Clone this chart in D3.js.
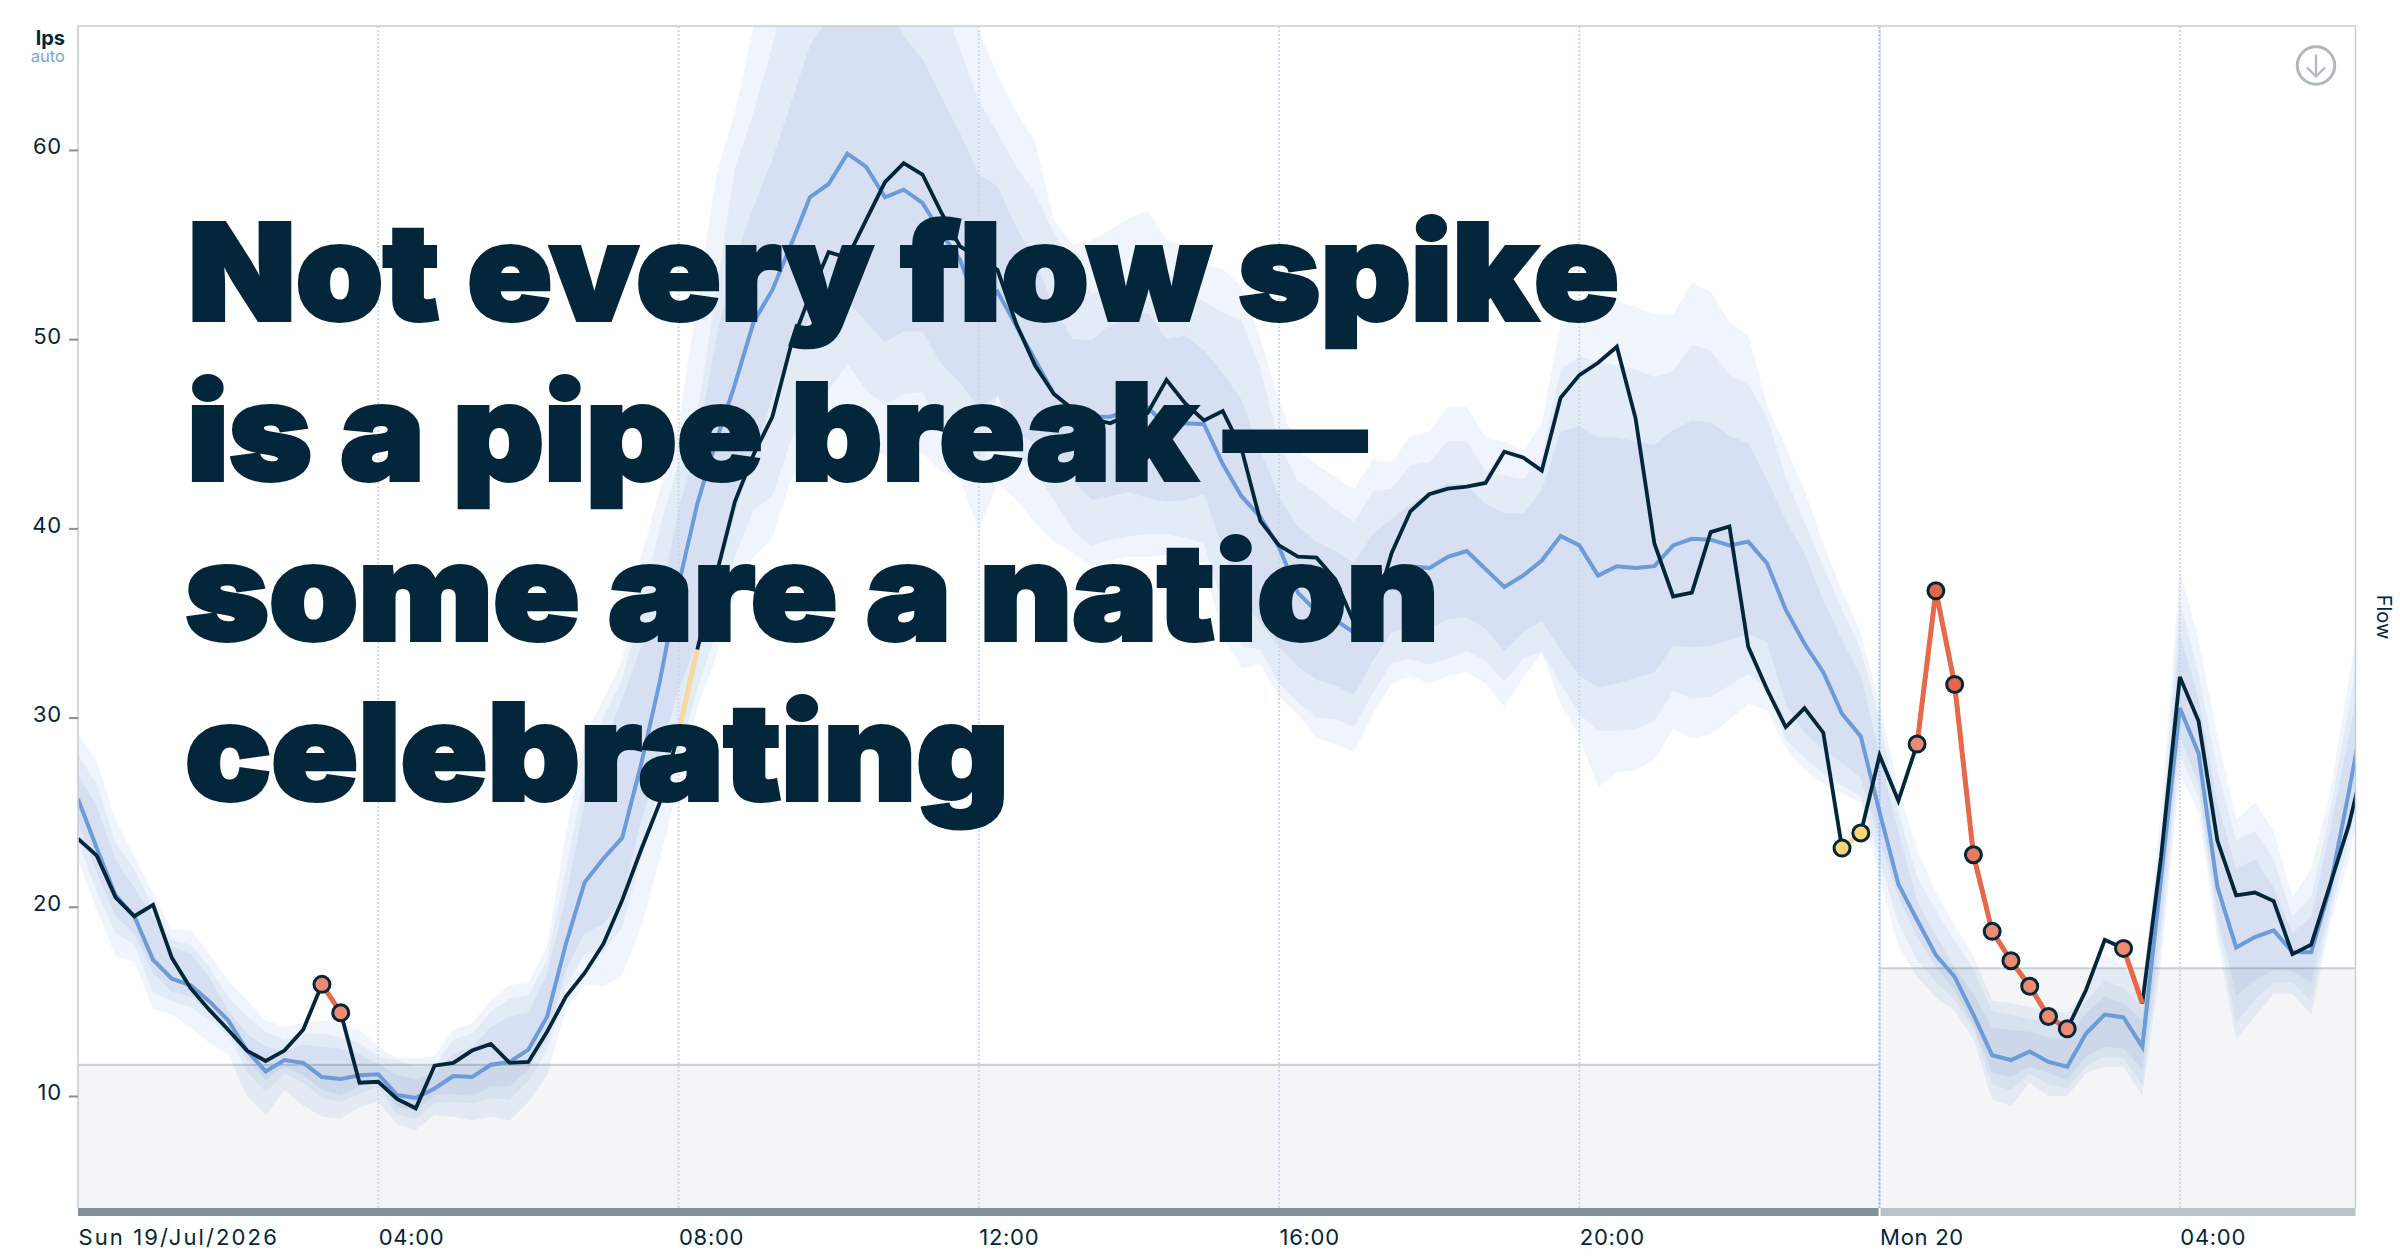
<!DOCTYPE html>
<html>
<head>
<meta charset="utf-8">
<script src="https://cdn.jsdelivr.net/npm/d3@7"></script>
<style>
  html, body { margin: 0; padding: 0; background: #fff; }
  svg { display: block; font-family: Inter, "Noto Sans", sans-serif; }
</style>
</head>
<body>
<div id="chart"></div>
<script>
// flow readings, one value every 15 minutes from Sun 19 Jul 00:00
var actual = [
  23.6,22.7,20.5,19.5,20.1,17.3,15.7,14.55,13.5,12.4,
  11.85,12.4,13.5,15.9,14.4,10.7,10.75,9.85,9.35,11.6,
  11.75,12.4,12.75,11.75,11.8,13.4,15.25,16.5,18.05,20.35,
  23,25.5,29.2,33.6,37.5,41.4,43.9,45.9,49.7,52.3,
  54.6,54.3,56.3,58.3,59.3,58.7,56.7,54.9,54.3,53.65,
  50.8,48.6,47.1,46.3,45.8,45.55,46,46.1,47.85,46.6,
  45.7,46.2,44.2,40.4,39.1,38.5,38.45,37.3,35,35.3,
  38.7,40.9,41.8,42.1,42.2,42.4,44.05,43.75,43.05,46.9,
  48.1,48.75,49.6,45.8,39.2,36.4,36.6,39.8,40.1,33.75,
  31.5,29.5,30.5,29.2,23.1,23.9,28,25.6,28.6,36.7,
  31.75,22.75,18.7,17.15,15.8,14.2,13.55,15.6,18.25,17.8,
  14.9,22.65,32.15,29.8,23.5,20.6,20.75,20.3,17.5,18,
  21.15,24.3,28.4
];
var expected = [
  25.7,23.1,20.6,19.5,17.2,16.2,15.85,15,14,12.4,
  11.3,11.9,11.75,11,10.9,11.1,11.15,10.05,9.9,10.4,
  11.05,11,11.65,11.8,12.45,14.2,18.05,21.3,22.55,23.65,
  27.5,31.9,37,41.3,44.6,47.6,50.9,52.6,55,57.5,
  58.2,59.8,59.1,57.5,57.9,57.2,55.6,54.2,51.5,52.5,
  50.7,48.9,47.1,46.3,45.9,45.9,46.2,46.4,45.4,45.55,
  45.5,43.4,41.7,40.6,39,36.6,35.6,35.15,34.5,35.85,
  37.5,38,37.9,38.5,38.8,37.85,36.9,37.5,38.3,39.6,
  39.1,37.5,38,37.9,38,39.1,39.45,39.4,39.1,39.3,
  38.15,35.7,33.9,32.4,30.2,29,25,21.2,19.3,17.45,
  16.3,14.3,12.15,11.9,12.35,11.8,11.55,13.3,14.3,14.15,
  12.6,21.5,30.5,28.1,21.05,17.85,18.4,18.75,17.6,17.6,
  21,26.05,31.3
];
var upperOuter = [
  29.1,27.7,24.6,22.65,20.7,18.8,18.8,17.5,16.1,15.05,
  14,13.65,13.85,14,13.85,13.5,12.6,12,12,12.1,
  13.5,13.85,15.05,15.85,16,17.9,23.9,29,31,33,
  38.5,42,45.5,52,58.6,62,66.5,71,74,76,
  77,78,78,77,76,74,70,69,66.3,64,
  62,60.4,56.3,55,55.2,55.8,56.4,56.8,55.2,55,
  54,53.7,52.8,50,46.8,44.1,43.4,42.7,42.1,43.65,
  43.5,44.9,45.1,46.4,46.4,44.8,44.6,44.1,45.5,50.8,
  51.5,52,52,51.7,51.3,51.3,53,52.5,50.9,50.2,
  46.5,44.3,42,39.2,36.7,34.5,30.7,26.3,23,20.8,
  19,17.4,15.05,14.9,14.7,14.5,14.4,15.6,17.5,16.8,
  15.8,25,37.8,34.1,29,24.6,25.5,24,20.5,22,
  26,32,38
];
var upperMid = [
  28,26.5,23.4,22,20,18.25,18,16.8,15.25,14.2,
  13.4,13,13.3,13.3,13.1,12.8,12.1,11.9,11.55,11.6,
  13,13.3,14.45,15.15,15.3,17.2,22,27,30,32,
  36,40,43.5,46,52.5,59,62,65.5,70,72,
  74,75,75,74,72,70,68,65.3,62.6,60.9,
  59.1,57.7,55.6,54,52.4,52.8,53.1,53.3,53.6,52.6,
  52,51.4,51,48.5,44.5,42.5,41.85,41,40.35,41.95,
  42.1,43.35,43.5,44.6,44.6,43,42.8,42.6,43.8,48.4,
  49.1,48.8,48.6,48.4,48,48.3,49.7,49.4,48.1,47.6,
  45.9,42.7,40.3,38,35.7,33.6,29.9,25,21.6,19.8,
  18.2,16.7,14.5,14.3,14.1,13.9,13.7,15,16.1,15.7,
  14.7,23.5,36.2,32.3,27.2,23.5,24,22.5,19.5,20.5,
  25,30.5,36
];
var upperInner = [
  27,25.3,22.5,21,19.5,17.9,17.5,16.3,14.5,13.3,
  12.6,12.4,12.7,12.6,12.5,12.2,11.7,11.1,10.9,11.2,
  12.25,12.6,13.65,14.2,14.4,16.5,20.5,25.5,28.5,31,
  33.7,36,41,44.5,50,54.3,57,59.5,62.5,65.5,
  67,69,69,68,66,64.8,62.8,60.9,58.7,58.1,
  55.9,54.2,51.7,50,49.95,50.75,51.1,51.4,50,50.2,
  49.4,48.2,46.8,44.1,41.7,40.1,39.3,38.8,38.2,39.7,
  40.5,41.3,41.9,42.4,42.3,41.3,40.8,40.8,42,45.1,
  45.4,44.8,44.8,44.6,44.4,45.2,45.7,45.6,44.9,44.5,
  42.6,40.4,38.7,36.2,34.1,32.2,28,24,20.3,18.5,
  16.8,15.4,13.6,13.5,13.4,13.1,13,14.4,15.25,14.9,
  14,22.5,34.45,31,25.5,22,22.5,21,18.6,19.5,
  24,29,34
];
var lowerInner = [
  24.5,21.8,19.5,18.6,16.5,15.5,15.25,14.4,13.5,11.9,
  10.85,11.55,11.1,10.3,10.05,10.5,10.85,9.4,9.2,10.05,
  10.1,10,10.5,10.5,11.4,13,16.65,18.6,19.1,20.35,
  24.5,28,31.5,34,37,40.8,43.7,47,49.5,51,
  51.5,52,50.9,49.85,50.4,50.4,48.7,47.7,46.4,47,
  45,44.5,43.5,42.6,41.5,41.7,41.9,41.6,41.4,41.5,
  41.8,38.9,36.2,35,33.75,32.7,32,31.7,31.2,33,
  34.5,34.7,34.7,35.2,35.3,34.7,33.5,34.5,35.1,33.6,
  32.2,31.6,31.8,32.1,32.4,33.8,33.7,33.8,34.1,34.4,
  34,30.7,29.2,28.3,27.6,26.8,23.5,20.5,18.4,16.8,
  15.6,13.75,11.2,11,11.55,11.2,10.85,12.1,12.6,12.5,
  11.4,19,29,26.5,19.5,15.3,16.1,16.65,16.6,16,
  20,24.5,29
];
var lowerMid = [
  23.5,20.8,18.6,18,15.5,15,14.7,14,13.2,11.3,
  10.2,11.2,10.7,9.9,9.7,10.1,10.5,9,8.8,9.6,
  9.7,9.6,9.9,9.8,10.8,12.4,15.8,17.5,17.6,18.9,
  22.5,26.5,28,31.5,34.5,38.5,41,41.7,44.7,46.3,
  47.3,48.7,47.3,46.5,47.1,47.2,45.1,44.3,42.5,47.1,
  44,43,41.5,39.9,39.1,39.4,39.6,39.7,39.7,39.5,
  39.2,36,33.75,33.6,31.8,30.8,30,29.9,29.5,31.3,
  32.9,33.1,32.8,33.1,33.5,33,31.9,33.1,33.5,31.8,
  30.2,29.3,29.3,29.4,29.8,31.4,31,31.1,31.7,32.3,
  31.6,28.8,27.9,27.05,26.4,25.8,22.5,19.1,17.2,16,
  15.1,13.5,10.6,10.3,11.2,10.6,10.4,11.55,12.1,12,
  10.6,18,28,25.8,19,13.85,15.1,16,16,15,
  19.5,23.5,28
];
var lowerOuter = [
  22.5,19.85,17.4,17.1,14.6,14.3,13.6,12.8,12.2,10,
  9,10.3,9.5,8.9,8.8,9.4,9.7,8.5,8.2,9,
  8.9,8.7,8.9,8.7,9.7,11.1,14.6,15.9,15.8,16.4,
  19,22.5,26.5,30.5,33.2,36.5,38.5,39.5,42.6,44,
  45,45.5,44.5,43.8,44,44,43,42.6,39.9,42.4,
  41.5,40.3,39.3,38.7,38,38.3,38.5,38.5,38.6,38.4,
  38.15,34.3,32.6,32.8,31.1,30.2,28.9,28.6,28.2,30.2,
  31.8,32.2,31.8,32.2,32.4,31.8,30.6,32.1,33.4,30.75,
  29,26.3,27.1,27.2,27.8,29.4,28.9,29.1,29.9,30.7,
  30.4,28.4,27.2,26.5,26,25.5,21.5,17.9,16.3,15.2,
  14.5,13,9.8,9.5,10.7,10,10,11.2,11.55,11.55,
  10,17,27,25,18.2,13,14.2,15.4,15.4,14.3,
  19,22.5,27
];

// flagged stretches, as indexes into actual
var yellowRuns = [[32, 33], [94, 95]];
var orangeRuns = [[13, 14], [98, 99, 100, 101, 102, 103, 104, 105, 106], [109, 110]];
var yellowDots = [94, 95];
var lightDots = [13, 14, 98, 102, 103, 104, 105, 106, 109];
var midDots = [101];
var strongDots = [99, 100];

// low-flow threshold per day
var thresholds = [
  {from: 0, to: 24, value: 11.65},
  {from: 24, to: 30.34, value: 16.75}
];
var yTicks = [10, 20, 30, 40, 50, 60];
var xTicks = [0, 4, 8, 12, 16, 20, 24, 28];
var xTickLabels = ["Sun 19/Jul/2026", "04:00", "08:00", "12:00", "16:00", "20:00", "Mon 20", "04:00"];
var titleLines = ["Not every flow spike", "is a pipe break \u2014", "some are a nation", "celebrating"];

var svgWidth = 2400;
var svgHeight = 1256;
var margin = {top: 26, right: 44.5, bottom: 48, left: 78};
var dark = "#03263b";
var blue = "#6b9bd8";

var t0 = Date.UTC(2026, 6, 19);
function hours(h) { return new Date(t0 + h * 3600000); }
function timeOf(i) { return hours(i / 4); }

var x = d3.scaleUtc()
  .domain([hours(0), hours(30.34)])
  .range([margin.left, svgWidth - margin.right]);
var y = d3.scaleLinear()
  .domain([4.08, 66.55])
  .range([svgHeight - margin.bottom, margin.top]);

var svg = d3.select("#chart").append("svg")
  .attr("width", svgWidth)
  .attr("height", svgHeight);

svg.append("clipPath").attr("id", "plot")
  .append("rect")
  .attr("x", margin.left)
  .attr("y", margin.top)
  .attr("width", svgWidth - margin.left - margin.right)
  .attr("height", svgHeight - margin.top - margin.bottom);

var plot = svg.append("g").attr("clip-path", "url(#plot)");

// bands, widest first
var bands = [
  {lo: lowerOuter, hi: upperOuter, fill: "#f0f4fc"},
  {lo: lowerMid, hi: upperMid, fill: "#e3ebf7"},
  {lo: lowerInner, hi: upperInner, fill: "#d6e0f2"}
];
bands.forEach(function(b) {
  var area = d3.area()
    .x(function(d, i) { return x(timeOf(i)); })
    .y0(function(d, i) { return y(b.lo[i]); })
    .y1(function(d) { return y(d); });
  plot.append("path").attr("d", area(b.hi)).attr("fill", b.fill);
});

// threshold shading
thresholds.forEach(function(t) {
  plot.append("rect")
    .attr("x", x(hours(t.from)))
    .attr("y", y(t.value))
    .attr("width", x(hours(t.to)) - x(hours(t.from)))
    .attr("height", y.range()[0] - y(t.value))
    .attr("fill", "rgba(20,60,100,0.05)");
  plot.append("line")
    .attr("x1", x(hours(t.from)))
    .attr("x2", x(hours(t.to)))
    .attr("y1", y(t.value))
    .attr("y2", y(t.value))
    .attr("stroke", "rgba(20,40,60,0.2)")
    .attr("stroke-width", 2);
});

// vertical grid
xTicks.forEach(function(h) {
  plot.append("line")
    .attr("x1", x(hours(h)))
    .attr("x2", x(hours(h)))
    .attr("y1", margin.top)
    .attr("y2", y.range()[0])
    .attr("stroke", h === 24 ? "#a6c3ec" : "#cbd8ea")
    .attr("stroke-width", 2)
    .attr("stroke-dasharray", h === 24 ? "3 1" : "2 2");
});

// lines
function drawLine(values, indexes, color, width) {
  var path = d3.line()
    .x(function(i) { return x(timeOf(i)); })
    .y(function(i) { return y(values[i]); });
  plot.append("path")
    .attr("d", path(indexes))
    .attr("fill", "none")
    .attr("stroke", color)
    .attr("stroke-width", width)
    .attr("stroke-linejoin", "miter");
}
drawLine(expected, d3.range(expected.length), blue, 4);
drawLine(actual, d3.range(actual.length), dark, 3.8);
yellowRuns.forEach(function(r) { drawLine(actual, r, "#fad9a0", 5); });
orangeRuns.forEach(function(r) { drawLine(actual, r, "#e8694a", 5); });

function drawDots(indexes, color) {
  plot.selectAll(null)
    .data(indexes)
    .enter()
    .append("circle")
    .attr("cx", function(i) { return x(timeOf(i)); })
    .attr("cy", function(i) { return y(actual[i]); })
    .attr("r", 8)
    .attr("fill", color)
    .attr("stroke", dark)
    .attr("stroke-width", 3);
}
drawDots(yellowDots, "#fbd57a");
drawDots(lightDots, "#ee8a70");
drawDots(midDots, "#e97a5e");
drawDots(strongDots, "#e5674a");

// frame
svg.append("path")
  .attr("d", "M" + margin.left + "," + y.range()[0] + "V" + margin.top + "H" + (svgWidth - margin.right) + "V" + y.range()[0])
  .attr("fill", "none")
  .attr("stroke", "#c9cdd1")
  .attr("stroke-width", 1.5);

// day bars under the plot
svg.append("rect")
  .attr("x", x(hours(0))).attr("y", y.range()[0])
  .attr("width", x(hours(24)) - x(hours(0)) - 1).attr("height", 8)
  .attr("fill", "#7f9098");
svg.append("rect")
  .attr("x", x(hours(24)) + 1).attr("y", y.range()[0])
  .attr("width", x(hours(30.34)) - x(hours(24)) - 1).attr("height", 8)
  .attr("fill", "#bac3ca");

// axes
var yAxis = svg.append("g")
  .attr("transform", "translate(" + margin.left + ",0)")
  .call(d3.axisLeft(y).tickValues(yTicks).tickSize(9).tickPadding(7));
yAxis.select(".domain").remove();
yAxis.selectAll("line").attr("stroke", "#8a8f93").attr("stroke-width", 2);
yAxis.selectAll("text")
  .attr("dy", "0.18em")
  .attr("fill", dark)
  .style("font-size", "22px")
  .style("font-family", "Inter")
  .style("letter-spacing", "0.8px");

var xAxis = svg.append("g")
  .attr("transform", "translate(0," + (y.range()[0] + 8) + ")")
  .call(d3.axisBottom(x)
    .tickValues(xTicks.map(hours))
    .tickSize(0)
    .tickPadding(0)
    .tickFormat(function(d, i) { return xTickLabels[i]; }));
xAxis.select(".domain").remove();
xAxis.selectAll("text")
  .attr("text-anchor", "start")
  .attr("y", 27)
  .attr("dy", 2)
  .attr("fill", dark)
  .style("font-size", "22px")
  .style("font-family", "Inter")
  .style("letter-spacing", "0.7px");
xAxis.selectAll("text").filter(function(d, i) { return i === 0; })
  .attr("textLength", 199);

// unit labels
svg.append("text")
  .attr("x", 65).attr("y", 45)
  .attr("text-anchor", "end")
  .attr("fill", dark)
  .style("font-size", "20px")
  .style("font-weight", 700)
  .text("lps");
svg.append("text")
  .attr("x", 65).attr("y", 62)
  .attr("text-anchor", "end")
  .attr("fill", "#7ba3de")
  .style("font-size", "16.5px")
  .text("auto");
svg.append("text")
  .attr("transform", "translate(2377,617) rotate(90)")
  .attr("text-anchor", "middle")
  .attr("fill", dark)
  .style("font-size", "20px")
  .text("Flow");

// download button
var icon = svg.append("g")
  .attr("transform", "translate(2316,65.5)")
  .attr("fill", "none")
  .attr("stroke", "#b0b8bc");
icon.append("circle").attr("r", 18.7).attr("stroke-width", 3);
icon.append("path")
  .attr("d", "M0,-11V11M-9,2L0,11L9,2")
  .attr("stroke-width", 2.2);

// headline, thickened with a stroke to get closer to the black weight
var titleX = [188, 187, 185, 185];
var titleW = [1431, 1179, 1254, 824];
svg.append("g").selectAll("text")
  .data(titleLines)
  .enter()
  .append("text")
  .attr("x", function(d, i) { return titleX[i]; })
  .attr("y", function(d, i) { return 320 + i * 160; })
  .attr("textLength", function(d, i) { return titleW[i]; })
  .attr("lengthAdjust", "spacingAndGlyphs")
  .attr("fill", dark)
  .attr("stroke", dark)
  .attr("stroke-width", 4)
  .attr("stroke-linejoin", "miter")
  .style("font-size", "133px")
  .style("font-weight", 900)
  .text(function(d) { return d; });
</script>
</body>
</html>
